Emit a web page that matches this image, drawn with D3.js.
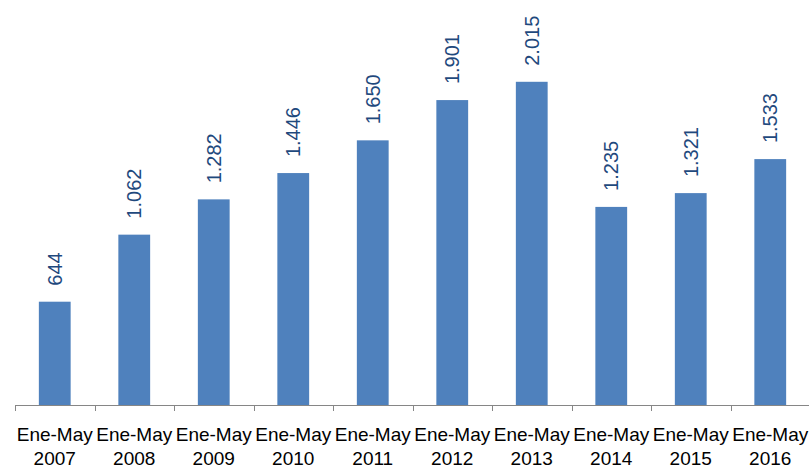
<!DOCTYPE html>
<html><head><meta charset="utf-8">
<script src="https://cdn.jsdelivr.net/npm/d3@7"></script>
<style>body{margin:0;background:#fff;}svg{display:block;}</style>
</head><body>
<script>
const periods = ["Ene-May","Ene-May","Ene-May","Ene-May","Ene-May","Ene-May","Ene-May","Ene-May","Ene-May","Ene-May"];
const years = ["2007","2008","2009","2010","2011","2012","2013","2014","2015","2016"];
const values = [644,1062,1282,1446,1650,1901,2015,1235,1321,1533];
const valueLabels = ["644","1.062","1.282","1.446","1.650","1.901","2.015","1.235","1.321","1.533"];

const W = 809, H = 469;
const svg = d3.select("body").append("svg").attr("width", W).attr("height", H);
const x = d3.scaleBand().domain(years).range([15, 810]).paddingInner(0.6).paddingOuter(0.3);
const y = d3.scaleLinear().domain([0, 2500]).range([405, 4]);

svg.selectAll("rect.bar").data(values).enter().append("rect")
  .attr("x", (d,i) => x(years[i]))
  .attr("width", x.bandwidth())
  .attr("y", d => y(d))
  .attr("height", d => y(0) - y(d))
  .attr("fill", "#4f81bd");

svg.selectAll("text.val").data(values).enter().append("text")
  .attr("transform", (d,i) => `translate(${x(years[i]) + x.bandwidth()/2 + 7},${y(d) - 16}) rotate(-90)`)
  .attr("text-anchor", "start")
  .attr("font-family", "Liberation Sans, Arial, sans-serif")
  .attr("font-size", 20)
  .attr("fill", "#1f497d")
  .text((d,i) => valueLabels[i]);

// axis
const axisG = svg.append("g");
axisG.append("line").attr("x1", 15).attr("x2", 810).attr("y1", 405.5).attr("y2", 405.5)
  .attr("stroke", "#868686").attr("stroke-width", 1);
const step = x.step();
const tickPos = d3.range(years.length + 1).map(i => 15 + i * step);
axisG.selectAll("line.tick").data(tickPos).enter().append("line")
  .attr("x1", d => Math.round(d) + 0.5).attr("x2", d => Math.round(d) + 0.5)
  .attr("y1", 405).attr("y2", 411)
  .attr("stroke", "#868686");

const lab = svg.selectAll("text.cat").data(years).enter().append("text")
  .attr("text-anchor", "middle")
  .attr("font-family", "Liberation Sans, Arial, sans-serif")
  .attr("font-size", 19)
  .attr("fill", "#000");
lab.append("tspan").attr("x", d => x(d) + x.bandwidth()/2).attr("y", 441).text((d,i) => periods[i]);
lab.append("tspan").attr("x", d => x(d) + x.bandwidth()/2).attr("y", 465).text(d => d);
</script>
</body></html>
